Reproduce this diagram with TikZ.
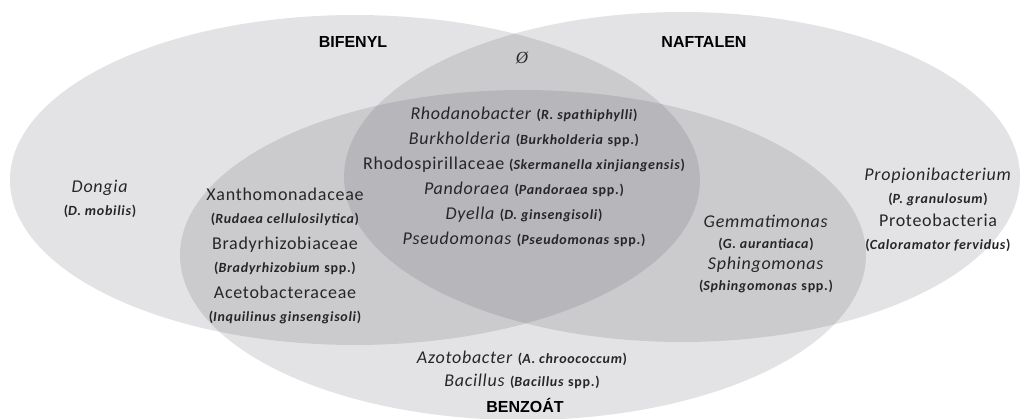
\documentclass[tikz,border=0pt]{standalone}
\usepackage{fontspec}
\setmainfont{Carlito}
\newfontfamily\headfont{Liberation Sans}
\newfontfamily\symfont{Liberation Serif}
\newfontfamily\txtfont[LetterSpace=4]{Carlito}
\newfontfamily\subfont[LetterSpace=5]{Carlito}
\newcommand{\subtxt}[1]{{\subfont\bfseries\fontsize{14}{16}\selectfont #1}}
\definecolor{setgray}{RGB}{40,42,55}

\begin{document}
\begin{tikzpicture}[x=1pt,y=-1pt,
  set/.style={fill=setgray,fill opacity=0.13},
  title/.style={font=\headfont\bfseries\fontsize{16}{19}\selectfont},
  group/.style={align=center,text=black!85,font=\txtfont\fontsize{18}{23}\selectfont}]
  \useasboundingbox (0,0) rectangle (1022,418);
  % the three sets
  \fill[set] (355,180) ellipse [x radius=345,y radius=165];
  \fill[set] (682,177) ellipse [x radius=338,y radius=165];
  \fill[set] (523,255) ellipse [x radius=343,y radius=165];
  % set names
  \node[title] (bifenyl) at (353,42) {BIFENYL};
  \node[title] (naftalen) at (704,42) {NAFTALEN};
  \node[title] (benzoat) at (525,405) {BENZOÁT};
  \node[font=\symfont\itshape\fontsize{17}{19}\selectfont,text=black!85] (empty) at (522,58) {Ø};
  % bifenyl only
  \node[group] (dongia) at (100,199) {\textit{Dongia}\\
    \subtxt{(\textit{D. mobilis})}};
  % naftalen only
  \node[group] (propioni) at (938,210) {\textit{Propionibacterium}\\
    \subtxt{(\textit{P. granulosum})}\\
    Proteobacteria\\
    \subtxt{(\textit{Caloramator fervidus})}};
  % bifenyl and benzoat
  \node[group] (xantho) at (285,256) {Xanthomonadaceae\\
    \subtxt{(\textit{Rudaea cellulosilytica})}\\[3pt]
    Bradyrhizobiaceae\\
    \subtxt{(\textit{Bradyrhizobium} spp.)}\\[3pt]
    Acetobacteraceae\\
    \subtxt{(\textit{Inquilinus ginsengisoli})}};
  % naftalen and benzoat
  \node[group,font=\txtfont\fontsize{18}{21}\selectfont] (gemma) at (766,254) {\textit{Gemmatimonas}\\
    \subtxt{(\textit{G. aurantiaca})}\\
    \textit{Sphingomonas}\\
    \subtxt{(\textit{Sphingomonas} spp.)}};
  % all three
  \node[group,font=\txtfont\fontsize{18}{25}\selectfont] (core) at (524,177)
    {\textit{Rhodanobacter} \subtxt{(\textit{R. spathiphylli})}\\
    \textit{Burkholderia} \subtxt{(\textit{Burkholderia} spp.)}\\
    Rhodospirillaceae \subtxt{(\textit{Skermanella xinjiangensis})}\\
    \textit{Pandoraea} \subtxt{(\textit{Pandoraea} spp.)}\\
    \textit{Dyella} \subtxt{(\textit{D. ginsengisoli})}\\
    \textit{Pseudomonas} \subtxt{(\textit{Pseudomonas} spp.)}};
  % benzoat only
  \node[group] (azoto) at (522,370) {\textit{Azotobacter} \subtxt{(\textit{A. chroococcum})}\\
    \textit{Bacillus} \subtxt{(\textit{Bacillus} spp.)}};
\end{tikzpicture}
\end{document}
